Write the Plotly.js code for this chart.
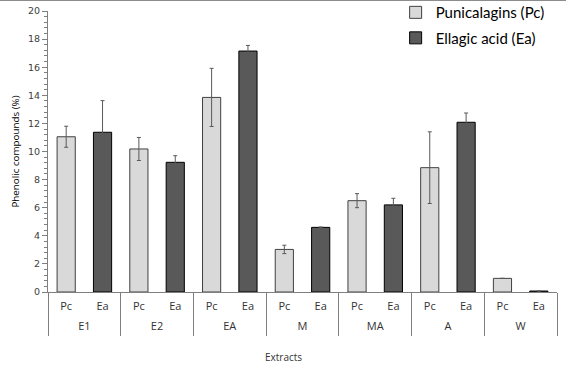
<!DOCTYPE html>
<html><head><meta charset="utf-8">
<script src="https://cdn.plot.ly/plotly-3.0.1.min.js"></script>
<style>html,body{margin:0;padding:0;background:#fff;}#topline{position:absolute;left:0;top:0;width:566px;height:1px;background:#8c8c8c;z-index:10;}</style>
</head><body>
<div id="topline"></div>
<div id="chart" style="width:566px;height:369px;"></div>
<script>
const groups = ['E1','E2','EA','M','MA','A','W'];
const subs = ['Pc','Ea'];
const pcValues = [11.05, 10.18, 13.85, 3.03, 6.5, 8.85, 0.97];
const pcErrors = [0.75, 0.82, 2.07, 0.3, 0.5, 2.55, 0];
const eaValues = [11.37, 9.23, 17.15, 4.6, 6.2, 12.08, 0.07];
const eaErrors = [2.25, 0.47, 0.4, 0.03, 0.47, 0.66, 0];
const pcName = 'Punicalagins (Pc)';
const eaName = 'Ellagic acid (Ea)';
const yTicks = [0,2,4,6,8,10,12,14,16,18,20];

// category keys (group + sub) built from the arrays
const cats = [];
const catText = [];
groups.forEach(g => subs.forEach(s => { cats.push(g + ' ' + s); catText.push(s); }));
const nCats = cats.length;
const groupCenters = groups.map((g, i) => i * subs.length + (subs.length - 1) / 2);

const traces = [
  {type:'bar', name:pcName, legendgroup:'pc', x:groups.map(g => g + ' Pc'), y:pcValues,
   width:0.5,
   marker:{color:'#d9d9d9', line:{color:'#404040', width:1}},
   error_y:{type:'data', array:pcErrors, visible:true, color:'#595959', thickness:1, width:2}},
  {type:'bar', name:eaName, legendgroup:'ea', x:groups.map(g => g + ' Ea'), y:eaValues,
   width:0.5,
   marker:{color:'#595959', line:{color:'#000000', width:1}},
   error_y:{type:'data', array:eaErrors, visible:true, color:'#595959', thickness:1, width:2}},
  // carrier for the group-label axis (no visible marks)
  {type:'scatter', mode:'markers', x:groupCenters, y:groups.map(() => null), xaxis:'x2', yaxis:'y',
   showlegend:false, hoverinfo:'skip', marker:{opacity:0}}
];

const tickFont = {family:'Open Sans, sans-serif', size:11, color:'#333333'};
const layout = {
  width:566, height:369,
  margin:{l:48, r:9, t:11, b:77, autoexpand:false},
  paper_bgcolor:'#fff', plot_bgcolor:'#fff',
  barmode:'overlay',
  showlegend:true,
  legend:{xref:'container', x:0.699, xanchor:'left', yref:'paper', y:1.053, yanchor:'top', font:{family:'Lato, Open Sans, sans-serif', size:15, color:'#000'}, bgcolor:'rgba(0,0,0,0)', tracegroupgap:3},
  xaxis:{type:'category', categoryorder:'array', categoryarray:cats, range:[-0.5, nCats - 0.5],
    tickvals:cats, ticktext:catText, ticklabelstandoff:4,
    showline:true, linecolor:'#7f7f7f', linewidth:1,
    ticks:'', showgrid:false, zeroline:false, tickfont:tickFont},
  xaxis2:{type:'linear', overlaying:'x', anchor:'y', side:'bottom', range:[-0.5, nCats - 0.5],
    tickvals:groupCenters, ticktext:groups, ticks:'', ticklabelstandoff:26,
    showline:false, showgrid:false, zeroline:false, tickfont:tickFont,
    minor:{tick0:-0.5, dtick:subs.length, ticks:'outside', ticklen:43, tickcolor:'#7f7f7f', tickwidth:1, showgrid:false}},
  yaxis:{range:[0,20], tickvals:yTicks, showline:true, linecolor:'#7f7f7f', linewidth:1,
    ticks:'outside', ticklen:5, tickcolor:'#7f7f7f', showgrid:false, zeroline:false,
    minor:{dtick:0.4, ticks:'outside', ticklen:3, tickcolor:'#7f7f7f', showgrid:false},
    tickfont:{family:'DejaVu Sans, sans-serif', size:9.5, color:'#404040'},
    title:{text:'Phenolic compounds (%)', font:{family:'Open Sans, sans-serif', size:9.8, color:'#000'}, standoff:6}},
  annotations:[{text:'Extracts', xref:'paper', yref:'paper', x:0.462, y:-0.233, xanchor:'center', yanchor:'middle', showarrow:false,
    font:{family:'Open Sans, sans-serif', size:10, color:'#333333'}}]
};
Plotly.newPlot('chart', traces, layout, {displayModeBar:false, staticPlot:true});
</script>
</body></html>
